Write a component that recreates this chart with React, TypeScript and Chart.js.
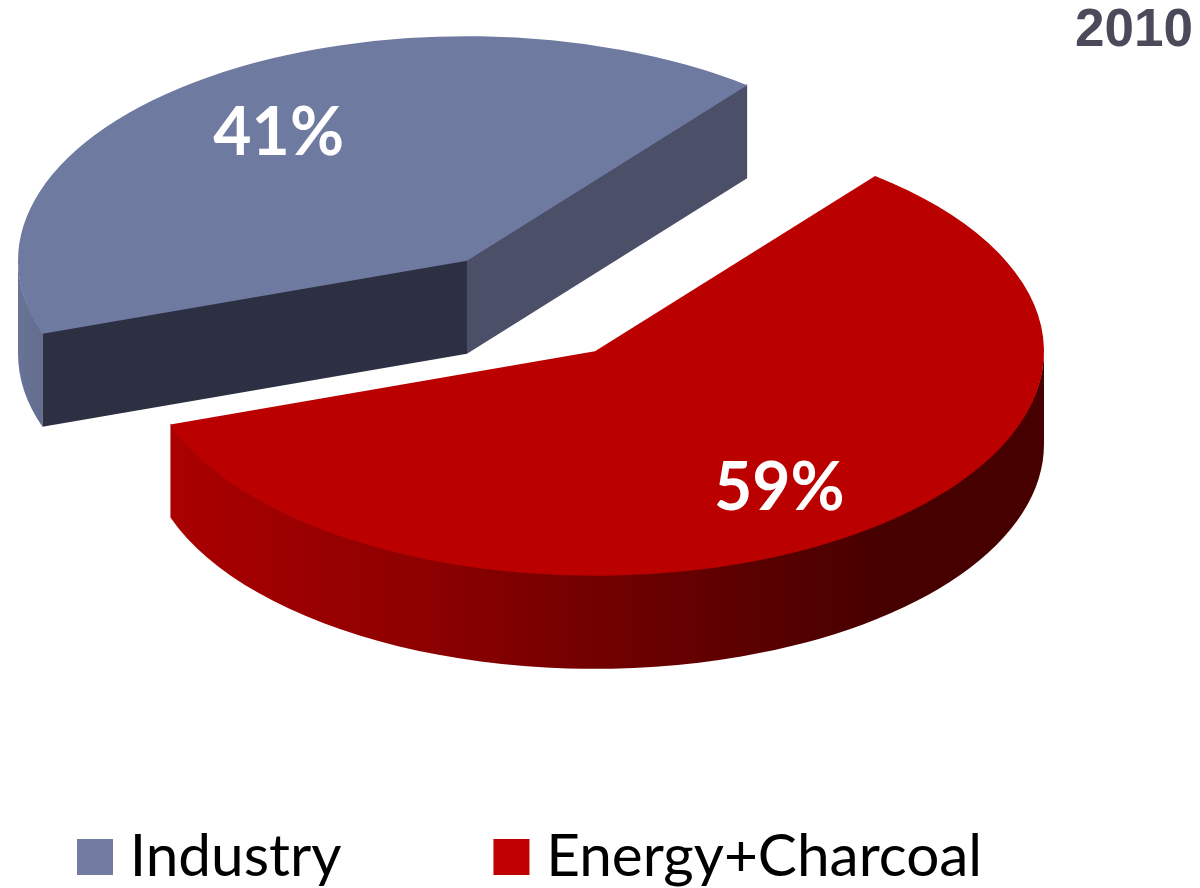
import { useEffect, useRef } from "react";
import { Chart, registerables } from "chart.js";

Chart.register(...registerables);

// Share of consumption by sector, 2010
const chartTitle = "2010";
const categories = ["Industry", "Energy+Charcoal"];
const shares = [41, 59];

const topColors = ["#6f7aa1", "#bb0000"];
const legendColors = ["#727ca3", "#c00000"];
// Outer rim shading, left to right
const rimStops = [
  [[0, "#687396"], [1, "#626d90"]],
  [[0, "#aa0000"], [0.3, "#8c0000"], [0.65, "#5c0000"], [0.82, "#470000"], [1, "#470000"]],
];
// Faces exposed by pulling the slices apart: [start edge, end edge]
const cutFaceColors = [["#2d3043", "#4b4f68"], [null, null]];

const PIE_X = 531;
const PIE_Y = 306;
const RADIUS = 449;
const SQUASH = 0.5;
const DEPTH = 93;
const EXPLODE = 111;
const ROTATION = 251;
const LABEL_RADIUS = 0.72;
const LABEL_SHIFT_X = -2;
const LABEL_SHIFT_Y = 5;

const LEGEND_FONT = 58.5;
const LEGEND_GAP = 164.5;
const LEGEND_SWATCH_INNER = 11;
const LEGEND_SWATCH_STROKE = 25;

const pie3d = {
  id: "pie3d",
  afterLayout(chart: any) {
    // Legend row sits left of centre, close to the bottom edge
    const legend = chart.legend;
    legend.left = 77 + LEGEND_SWATCH_STROKE / 2 - LEGEND_GAP;
    legend.top = 827.75 - LEGEND_GAP;
  },
  beforeDatasetsDraw(chart: any) {
    const { ctx } = chart;
    const arcs = chart.getDatasetMeta(0).data;

    arcs.forEach((arc: any, i: number) => {
      const a0 = arc.startAngle;
      const a1 = arc.endAngle;
      const mid = (a0 + a1) / 2;
      const r = arc.outerRadius;
      const ry = r * SQUASH;
      const cx = PIE_X + Math.cos(mid) * EXPLODE;
      const cy = PIE_Y + Math.sin(mid) * EXPLODE * SQUASH;

      // Outer rim: only the part of the arc on the front half of the disc
      const norm = (a: number) => {
        const t = a % (2 * Math.PI);
        return t < 0 ? t + 2 * Math.PI : t;
      };
      const from = norm(a0);
      const to = from + (a1 - a0);
      const spans: [number, number][] = [];
      for (const k of [0, 2]) {
        const lo = Math.max(from, k * Math.PI);
        const hi = Math.min(to, (k + 1) * Math.PI);
        if (hi > lo) spans.push([lo, hi]);
      }
      for (const [lo, hi] of spans) {
        const xa = cx + Math.cos(lo) * r;
        const xb = cx + Math.cos(hi) * r;
        const grad = ctx.createLinearGradient(Math.min(xa, xb), 0, Math.max(xa, xb), 0);
        rimStops[i].forEach(([p, c]: any) => grad.addColorStop(p, c));
        ctx.beginPath();
        // Starts a pixel high so the top face overlaps it without a seam
        ctx.ellipse(cx, cy - 1, r, ry, 0, lo, hi);
        ctx.ellipse(cx, cy + DEPTH, r, ry, 0, hi, lo, true);
        ctx.closePath();
        ctx.fillStyle = grad;
        ctx.fill();
      }

      // Radial cut faces that turn towards the viewer
      [a0, a1].forEach((edge: number, e: number) => {
        const color = cutFaceColors[i][e];
        if (!color) return;
        const px = cx + Math.cos(edge) * r;
        const py = cy + Math.sin(edge) * ry;
        ctx.beginPath();
        ctx.moveTo(cx, cy - 1);
        ctx.lineTo(px, py - 1);
        ctx.lineTo(px, py + DEPTH);
        ctx.lineTo(cx, cy + DEPTH);
        ctx.closePath();
        ctx.fillStyle = color;
        ctx.fill();
      });

      // Top face: the library's own arc, flattened into an ellipse
      ctx.save();
      ctx.translate(cx, cy);
      ctx.scale(1, SQUASH);
      ctx.translate(-arc.x, -arc.y);
      arc.draw(ctx);
      ctx.restore();
    });

    // Value labels on the top faces
    arcs.forEach((arc: any, i: number) => {
      const mid = (arc.startAngle + arc.endAngle) / 2;
      const cx = PIE_X + Math.cos(mid) * EXPLODE;
      const cy = PIE_Y + Math.sin(mid) * EXPLODE * SQUASH;
      const d = arc.outerRadius * LABEL_RADIUS;
      ctx.save();
      ctx.font = "bold 66px Lato";
      ctx.fillStyle = "#ffffff";
      ctx.textAlign = "center";
      ctx.textBaseline = "middle";
      ctx.fillText(
        `${shares[i]}%`,
        cx + Math.cos(mid) * d + LABEL_SHIFT_X,
        cy + Math.sin(mid) * d * SQUASH + LABEL_SHIFT_Y
      );
      ctx.restore();
    });

    return false;
  },
};

export default function App() {
  const canvasRef = useRef<HTMLCanvasElement | null>(null);

  useEffect(() => {
    if (!canvasRef.current) return;
    const chart = new Chart(canvasRef.current, {
      type: "pie",
      data: {
        labels: categories,
        datasets: [
          {
            data: shares,
            backgroundColor: topColors,
            borderWidth: 0,
            radius: RADIUS,
          },
        ],
      },
      options: {
        responsive: false,
        animation: false,
        rotation: ROTATION,
        layout: { padding: { right: 7 } },
        plugins: {
          tooltip: { enabled: false },
          title: {
            display: true,
            text: chartTitle,
            align: "end",
            color: "#4a4a5a",
            font: { family: "'Liberation Sans'", size: 53, weight: "bold" },
            padding: 0,
          },
          legend: {
            display: true,
            position: "bottom",
            align: "start",
            labels: {
              boxWidth: LEGEND_SWATCH_INNER,
              boxHeight: LEGEND_SWATCH_INNER,
              padding: LEGEND_GAP,
              color: "#000000",
              font: { family: "Lato", size: LEGEND_FONT },
              generateLabels: () =>
                categories.map((text, index) => ({
                  text,
                  index,
                  fillStyle: legendColors[index],
                  strokeStyle: legendColors[index],
                  lineWidth: LEGEND_SWATCH_STROKE,
                  hidden: false,
                })),
            },
          },
        },
      },
      plugins: [pie3d],
    } as any);
    return () => chart.destroy();
  }, []);

  return (
    <canvas
      ref={canvasRef}
      width={1200}
      height={888}
      style={{ position: "fixed", left: 0, top: 0, display: "block", background: "#ffffff" }}
    />
  );
}
